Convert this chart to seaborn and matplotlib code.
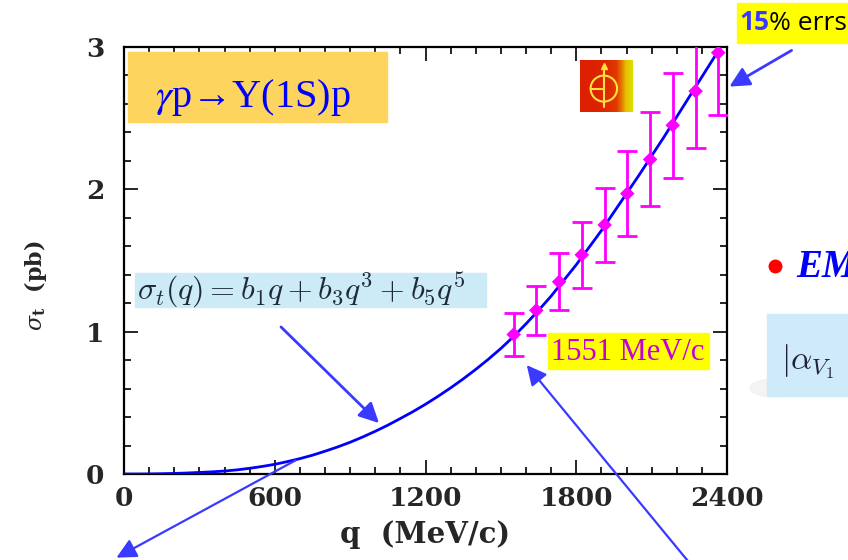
import numpy as np
import pandas as pd
import seaborn as sns
import matplotlib.pyplot as plt
from matplotlib.ticker import MultipleLocator
from matplotlib.patches import Rectangle, Ellipse
from matplotlib.lines import Line2D

# fitted curve (q in MeV/c, sigma in pb)
curve_q = [0, 50, 100, 150, 200, 250, 300, 350, 400, 450, 500, 550, 600, 650, 700,
           750, 800, 850, 900, 950, 1000, 1050, 1100, 1150, 1200, 1250, 1300, 1350,
           1400, 1450, 1500, 1550, 1600, 1650, 1700, 1750, 1800, 1850, 1900, 1950,
           2000, 2050, 2100, 2150, 2200, 2250, 2300, 2350, 2375]
curve_sigma = [0.0, 0.0, 0.0005, 0.002, 0.004, 0.007, 0.011, 0.015, 0.021, 0.029,
               0.04, 0.053, 0.068, 0.087, 0.108, 0.132, 0.16, 0.19, 0.223, 0.26,
               0.30, 0.343, 0.39, 0.438, 0.49, 0.546, 0.605, 0.668, 0.735, 0.806,
               0.882, 0.965, 1.055, 1.15, 1.25, 1.36, 1.47, 1.59, 1.71, 1.84,
               1.97, 2.10, 2.235, 2.37, 2.51, 2.65, 2.79, 2.93, 3.0]

# pseudo-data with 15% errors
data_q = [1551, 1641, 1732, 1822, 1913, 2003, 2094, 2184, 2275, 2365]
data_sigma = [0.98, 1.15, 1.35, 1.54, 1.75, 1.97, 2.21, 2.45, 2.69, 2.96]
data_err = [0.15, 0.17, 0.20, 0.23, 0.26, 0.30, 0.33, 0.37, 0.40, 0.44]

x_ticks = [0, 600, 1200, 1800, 2400]
y_ticks = [0, 1, 2, 3]

sns.set_theme(style='ticks')
plt.rcParams['font.family'] = ['DejaVu Serif']

W, H = 848, 560
fig = plt.figure(figsize=(W / 100, H / 100), dpi=100)
fig.patch.set_facecolor('white')


def fx(px):
    return px / W


def fy(py):
    return 1 - py / H


ax = fig.add_axes([fx(124), fy(474), (727 - 124) / W, (474 - 47) / H])
ax.set_facecolor('white')

curve = pd.DataFrame({'q': curve_q, 'sigma': curve_sigma})
pts = pd.DataFrame({'q': data_q, 'sigma': data_sigma, 'err': data_err})

sns.lineplot(data=curve, x='q', y='sigma', ax=ax, color='#0000ff', lw=2, zorder=3)
ax.errorbar(pts['q'], pts['sigma'], yerr=pts['err'], fmt='none', ecolor='#ff00ff',
            elinewidth=2, capsize=7, capthick=2, zorder=4)
sns.scatterplot(data=pts, x='q', y='sigma', ax=ax, marker='D', s=55, color='#ff00ff',
                edgecolor='none', zorder=5)

ax.set_xlim(0, 2400)
ax.set_ylim(0, 3)
ax.set_xticks(x_ticks)
ax.set_yticks(y_ticks)
ax.xaxis.set_minor_locator(MultipleLocator(100))
ax.yaxis.set_minor_locator(MultipleLocator(0.2))
ax.tick_params(which='both', direction='in', top=True, right=True, color='black', width=1.2)
ax.tick_params(which='major', length=10)
ax.tick_params(which='minor', length=5)
ax.tick_params(axis='x', which='major', pad=9, labelsize=19)
ax.tick_params(axis='y', which='major', pad=14, labelsize=19)
for lab in ax.get_xticklabels() + ax.get_yticklabels():
    lab.set_fontweight('bold')
for sp in ax.spines.values():
    sp.set_color('black')
    sp.set_linewidth(1.6)

ax.set_xlabel('q  (MeV/c)', fontsize=21, fontweight='bold', labelpad=6)
ax.set_ylabel(r'$\sigma_{\mathbf{t}}$  (pb)', fontsize=16, fontweight='bold',
              math_fontfamily='dejavuserif')
ax.yaxis.set_label_coords(-0.125, 0.44)

arrow_col = '#3a3aff'
arrow_kw = dict(arrowstyle='-|>', color=arrow_col, mutation_scale=30)

# reaction box
fig.add_artist(Rectangle((fx(128), fy(122)), (387 - 128) / W, 70 / H, transform=fig.transFigure,
                         color='#fdd55e', zorder=2))
fig.text(fx(253), fy(98), r'$\gamma$p→Y(1S)p', fontsize=29, color='#0000ff', ha='center',
         va='center', family=['Liberation Serif', 'DejaVu Serif'], math_fontfamily='stix', zorder=3)

# small logo
lax = fig.add_axes([fx(580), fy(112), 53 / W, 52 / H], zorder=3)
grad = np.linspace(0, 1, 60)[None, :] ** 3
lax.imshow(np.repeat(grad, 40, axis=0),
           cmap=sns.blend_palette(['#dd2000', '#e03a00', '#e8c000', '#d8e000'], as_cmap=True),
           aspect='auto', extent=(0, 1, 0, 1))
lax.add_patch(Ellipse((0.45, 0.45), 0.5, 0.5, fill=False, ec='#ffe040', lw=1.5))
lax.plot([0.45, 0.45], [0.1, 0.88], color='#ffe040', lw=1.5)
lax.plot([0.2, 0.45], [0.45, 0.45], color='#ffe040', lw=1.5)
lax.plot([0.45], [0.88], marker='^', color='#ffe040', ms=4)
lax.set_xlim(0, 1)
lax.set_ylim(0, 1)
lax.axis('off')

# 15% errs label
fig.add_artist(Rectangle((fx(737), fy(43)), (W - 737) / W, 40 / H, transform=fig.transFigure,
                         color='#ffff00', zorder=2))
fig.text(fx(739), fy(23), '15', fontsize=19, fontweight='bold', color='#3a3aff',
         va='center', family=['Open Sans', 'DejaVu Sans'], zorder=3)
fig.text(fx(769), fy(23), '% errs', fontsize=19, color='black', va='center',
         family=['Open Sans', 'DejaVu Sans'], zorder=3)
ax.annotate('', xy=(fx(727), fy(88)), xytext=(fx(794), fy(49)), xycoords='figure fraction',
            arrowprops=dict(lw=2, **arrow_kw), annotation_clip=False)

# formula box
fig.add_artist(Rectangle((fx(135), fy(307)), (486 - 135) / W, 34 / H, transform=fig.transFigure,
                         color='#cdeaf7', zorder=2))
fig.text(fx(137), fy(290), r'$\sigma_t(q) = b_1q + b_3q^3 + b_5q^5$', fontsize=23, color='#1e2a38',
         va='center', math_fontfamily='cm', zorder=3)
ax.annotate('', xy=(fx(381), fy(425)), xytext=(fx(279), fy(325)), xycoords='figure fraction',
            arrowprops=dict(lw=2, **arrow_kw), annotation_clip=False)

# 1551 MeV/c label
fig.add_artist(Rectangle((fx(548), fy(369)), (709 - 548) / W, 36 / H, transform=fig.transFigure,
                         color='#ffff00', zorder=2))
fig.text(fx(628), fy(352), '1551 MeV/c', fontsize=22, color='#c400d8', ha='center', va='center',
         family=['Liberation Serif', 'DejaVu Serif'], zorder=3)
ax.annotate('', xy=(fx(525), fy(363)), xytext=(fx(692), fy(566)), xycoords='figure fraction',
            arrowprops=dict(lw=1.6, **arrow_kw), annotation_clip=False)

# arrow leaving lower left
ax.annotate('', xy=(fx(114), fy(559)), xytext=(fx(298), fy(459)), xycoords='figure fraction',
            arrowprops=dict(lw=1.6, **arrow_kw), annotation_clip=False)

# right side fragments of the slide
fig.add_artist(Line2D([fx(775)], [fy(266)], marker='o', ms=9, color='#ff0000',
                      transform=fig.transFigure))
fig.text(fx(796), fy(267), 'EM', fontsize=28, fontweight='bold', fontstyle='italic', color='#0000ff',
         va='center', family=['Liberation Serif', 'DejaVu Serif'])
fig.add_artist(Ellipse((fx(775), fy(388)), 50 / W, 18 / H, transform=fig.transFigure,
                       color='#eeeeee', alpha=0.6, zorder=1))
fig.add_artist(Rectangle((fx(767), fy(396)), (W - 767) / W, 82 / H, transform=fig.transFigure,
                         color='#cfeaf8', zorder=2))
fig.text(fx(781), fy(362), r'$|\alpha_{V_1}$', fontsize=24, color='#202040', va='center',
         math_fontfamily='cm', zorder=3)

fig.savefig('out.png', dpi=100)
